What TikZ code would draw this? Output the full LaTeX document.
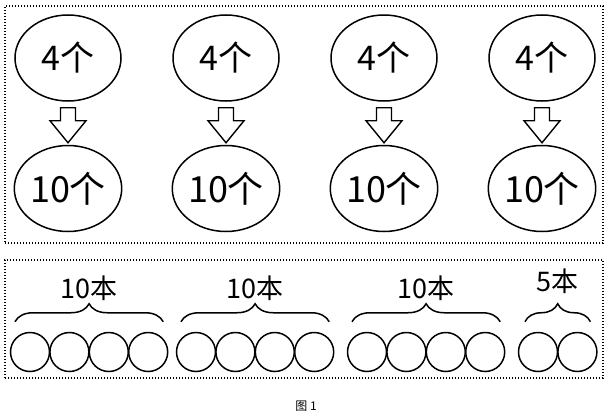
\documentclass[tikz,border=0pt]{standalone}
\usepackage{fontspec}
\newfontfamily\cjk{Noto Sans CJK SC}
\usetikzlibrary{calc,positioning,shapes,decorations.pathreplacing}
\tikzstyle{frame} = [rectangle, draw, line width=1.1pt, dash pattern=on 1.1pt off 1.9pt, inner sep=0pt]
\tikzstyle{oval} = [ellipse, draw, line width=1.5pt, minimum width=106pt, minimum height=86pt, inner sep=0pt, font={\cjk\fontsize{34}{34}\selectfont}]
\tikzstyle{bigoval} = [oval, font={\cjk\fontsize{36}{36}\selectfont}]
\tikzstyle{hollow} = [draw, line width=1.4pt, fill=white, line join=miter]
\tikzstyle{ball} = [circle, draw, line width=1.5pt, minimum size=39pt, inner sep=0pt]
\tikzstyle{brace} = [draw, line width=1.5pt, decorate, decoration={brace, amplitude=18pt}]
\tikzstyle{count} = [font={\cjk\fontsize{27}{27}\selectfont}]

\begin{document}
\begin{tikzpicture}[x=1pt, y=1pt]
    \useasboundingbox (0,0) rectangle (607,416);
    \node [frame, minimum width=598pt, minimum height=237pt] (upper) at (304,291.5) {};
    \node [frame, minimum width=598pt, minimum height=118pt] (lower) at (304,97) {};
    % top row
    \node [oval] (top1) at (68,358) {4个};
    \node [oval, right=50.5pt of top1] (top2) {4个};
    \node [oval, right=50.5pt of top2] (top3) {4个};
    \node [oval, right=50.5pt of top3] (top4) {4个};
    % bottom row
    \node [bigoval, below=43pt of top1] (bot1) {10个};
    \node [bigoval, below=43pt of top2] (bot2) {10个};
    \node [bigoval, below=43pt of top3] (bot3) {10个};
    \node [bigoval, below=43pt of top4] (bot4) {10个};
    % hollow arrows
    \foreach \i in {1,...,4} {
      \coordinate (mid\i) at ($(top\i.south)!0.5!(bot\i.north)$);
      \draw [hollow] ($(mid\i)+(-7.5,15.5)$) -- ++(15,0) -- ++(0,-13)
        -- ++(10.5,0) -- ($(mid\i)+(0,-19.5)$) -- ($(mid\i)+(-18,2.5)$)
        -- ++(10.5,0) -- cycle;
    }
    % rows of balls
    \foreach \g/\x in {1/30,2/196,3/367}
      \foreach \k in {1,...,4}
        \node [ball] (c\g\k) at ({\x+(\k-1)*39.4},64) {};
    \foreach \k in {1,2}
      \node [ball] (c4\k) at ({538+(\k-1)*39.4},64) {};
    \draw [brace] ([shift={(-15,10)}]c11.north) -- ([shift={(15,10)}]c14.north)
      node [count, midway, yshift=34pt] (n1) {10本};
    \draw [brace] ([shift={(-15,10)}]c21.north) -- ([shift={(15,10)}]c24.north)
      node [count, midway, yshift=34pt] (n2) {10本};
    \draw [brace] ([shift={(-15,10)}]c31.north) -- ([shift={(15,10)}]c34.north)
      node [count, midway, yshift=34pt] (n3) {10本};
    \draw [brace] ([shift={(-13,10)}]c41.north) -- ([shift={(13,10)}]c42.north)
      node [count, midway, yshift=41pt] (n4) {5本};
    \node [font={\cjk\fontsize{12}{12}\selectfont}] (caption) at (306,10) {图 1};
\end{tikzpicture}
\end{document}
